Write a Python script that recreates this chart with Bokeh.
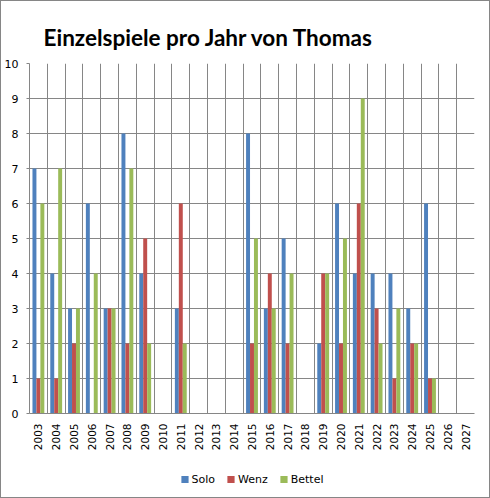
import math
from bokeh.plotting import figure
from bokeh.layouts import column
from bokeh.models import (FactorRange, Range1d, FixedTicker, Legend, LegendItem,
                          Title, ColumnDataSource, SingleIntervalTicker, CategoricalAxis)
from bokeh.transform import dodge
from bokeh.embed import file_html
from bokeh.resources import INLINE

years = [str(y) for y in range(2003, 2028)]
solo = [7, 4, 3, 6, 3, 8, 4, 0, 3, 0, 0, 0, 8, 3, 5, 0, 2, 6, 4, 4, 4, 3, 6, 0, 0]
wenz = [1, 1, 2, 0, 3, 2, 5, 0, 6, 0, 0, 0, 2, 4, 2, 0, 4, 2, 6, 3, 1, 2, 1, 0, 0]
bettel = [6, 7, 3, 4, 3, 7, 2, 0, 2, 0, 0, 0, 5, 3, 4, 0, 4, 5, 9, 2, 3, 2, 1, 0, 0]
series_names = ["Solo", "Wenz", "Bettel"]
colors = ["#4F81BD", "#C0504D", "#9BBB59"]
title_text = "Einzelspiele pro Jahr von Thomas"

src = ColumnDataSource(dict(year=years, Solo=solo, Wenz=wenz, Bettel=bettel))

GRID = "#868686"

p = figure(frame_width=445, frame_height=350, x_range=FactorRange(*years),
           y_range=Range1d(0, 10),
           output_backend="svg", toolbar_location=None, x_axis_location=None,
           min_border_left=28, min_border_right=15, min_border_top=62, min_border_bottom=48)
p.title = Title(text=title_text, align="left", offset=14, text_font="Lato",
                text_font_size="22.5px", text_font_style="bold", text_color="black",
                standoff=26)
p.outline_line_color = None

bw = 0.222
for name, off, col in zip(series_names, [-bw, 0, bw], colors):
    p.vbar(x=dodge("year", off, range=p.x_range), top=name, width=bw,
           source=src, fill_color=col, line_color=None)

# grids
bounds = list(range(len(years) + 1))
p.xgrid.ticker = FixedTicker(ticks=bounds)
p.xgrid.grid_line_color = GRID
p.ygrid.grid_line_color = GRID
p.ygrid.ticker = SingleIntervalTicker(interval=1)

# y axis
p.yaxis.ticker = SingleIntervalTicker(interval=1)
p.yaxis.axis_line_color = GRID
p.yaxis.major_tick_line_color = GRID
p.yaxis.major_tick_out = 3
p.yaxis.major_tick_in = 0
p.yaxis.minor_tick_out = 0
p.yaxis.minor_tick_in = 0
p.yaxis.major_label_standoff = 8
p.yaxis.major_label_text_font = "DejaVu Sans"
p.yaxis.major_label_text_font_size = "11px"
p.yaxis.major_label_text_color = "black"

# x axis: category labels
cat_axis = CategoricalAxis(axis_line_color=GRID, major_tick_out=0, major_tick_in=0,
                           major_label_orientation=math.pi / 2, major_label_standoff=10,
                           major_label_text_font="DejaVu Sans",
                           major_label_text_font_size="10.5px",
                           major_label_text_color="black")
p.add_layout(cat_axis, "below")

# legend strip below the chart (helper glyphs lie outside its visible ranges)
lf = figure(width=488, height=36, output_backend="svg", toolbar_location=None,
            x_range=Range1d(5, 6), y_range=Range1d(5, 6),
            x_axis_location=None, y_axis_location=None, min_border=0)
lf.grid.visible = False
lf.outline_line_color = None
items = []
for name, col in zip(series_names, colors):
    r = lf.vbar(x=[0], top=[1], width=0.5, fill_color=col, line_color=None)
    items.append(LegendItem(label=name, renderers=[r]))
legend = Legend(items=items, orientation="horizontal", location="center",
                padding=0, margin=0, spacing=11, glyph_width=9, glyph_height=9,
                label_standoff=3, label_text_font="DejaVu Sans", label_text_font_size="11px",
                label_text_color="black",
                border_line_color=None, background_fill_alpha=0)
lf.add_layout(legend, "center")

layout = column(p, lf, spacing=0, styles={"border": "1px solid " + GRID})

open("out.html", "w").write(file_html(layout, INLINE))
